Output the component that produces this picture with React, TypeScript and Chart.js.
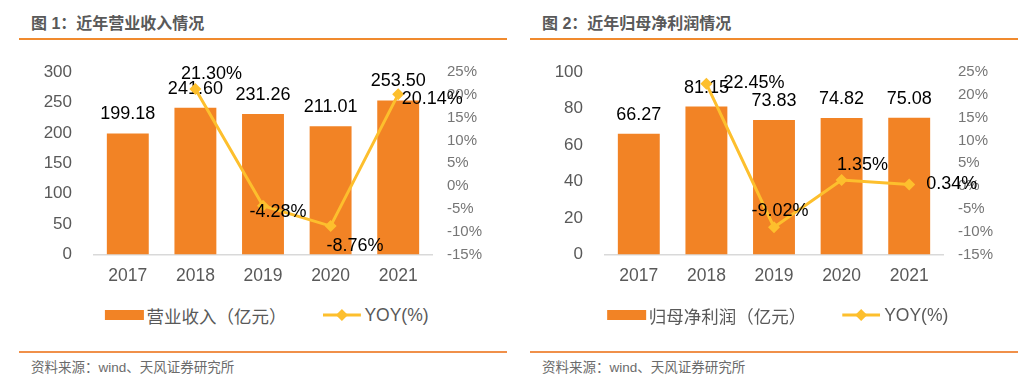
import React, { useEffect, useRef } from 'react';
import { Chart, registerables } from 'chart.js';

Chart.register(...registerables);

const years = ['2017', '2018', '2019', '2020', '2021'];
const revenue = [199.18, 241.6, 231.26, 211.01, 253.5];
const revenueYoy: (number | null)[] = [null, 21.3, -4.28, -8.76, 20.14];
const profit = [66.27, 81.15, 73.83, 74.82, 75.08];
const profitYoy: (number | null)[] = [null, 22.45, -9.02, 1.35, 0.34];
const revenueAxis = { min: 0, max: 300, step: 50 };
const profitAxis = { min: 0, max: 100, step: 20 };
const yoyAxis = { min: -15, max: 25, step: 5 };

const BAR = '#F28325';
const LINE = '#FDBF2D';
const AXIS_TEXT = '#595959';
const LATIN = "'Liberation Sans', Arial, 'Noto Sans CJK SC', sans-serif";

type PanelProps = {
  x: number;
  title: string;
  barLabel: string;
  bars: number[];
  yoy: (number | null)[];
  axis: { min: number; max: number; step: number };
  yoyOffsets: number[][];
};

function Panel({ x, title, barLabel, bars, yoy, axis, yoyOffsets }: PanelProps) {
  const ref = useRef<HTMLCanvasElement>(null);

  useEffect(() => {
    const canvas = ref.current;
    if (!canvas) return;
    const valueLabels = {
      id: 'valueLabels',
      afterDatasetDraw(chart: any, args: any) {
        const ds = chart.data.datasets[args.index];
        const ctx = chart.ctx;
        ctx.save();
        ctx.font = `18px ${LATIN}`;
        ctx.fillStyle = '#000';
        ctx.textAlign = 'center';
        ctx.textBaseline = 'middle';
        args.meta.data.forEach((el: any, i: number) => {
          const v = ds.data[i];
          if (v == null) return;
          if (args.index === 0) {
            ctx.fillText(v.toFixed(2), el.x, el.y - 19);
          } else {
            const [dx, dy] = yoyOffsets[i];
            ctx.fillText(v.toFixed(2) + '%', el.x + dx, el.y + dy);
          }
        });
        ctx.restore();
      },
    };

    const chart = new Chart(canvas, {
      type: 'bar',
      data: {
        labels: years,
        datasets: [
          {
            type: 'bar',
            label: barLabel,
            data: bars,
            backgroundColor: BAR,
            yAxisID: 'y',
            order: 1,
            barPercentage: 0.62,
            categoryPercentage: 1,
          } as any,
          {
            type: 'line',
            label: 'YOY(%)',
            data: yoy,
            borderColor: LINE,
            backgroundColor: LINE,
            borderWidth: 3,
            pointStyle: 'rectRot',
            pointRadius: 6,
            pointBackgroundColor: LINE,
            pointBorderColor: LINE,
            pointBorderWidth: 0,
            yAxisID: 'y1',
            order: 0,
            tension: 0,
          } as any,
        ],
      },
      options: {
        animation: false,
        responsive: false,
        events: [],
        layout: { padding: { top: 30, bottom: 0, left: 0, right: 0 } },
        plugins: { legend: { display: false }, tooltip: { enabled: false } },
        scales: {
          x: {
            grid: { display: false, drawTicks: false },
            border: { display: true, color: '#D9D9D9', width: 1.5 },
            ticks: { color: AXIS_TEXT, font: { family: LATIN, size: 17.5 }, padding: 11 },
            afterFit: (s: any) => {
              s.height = 45.5;
            },
          },
          y: {
            position: 'left',
            min: axis.min,
            max: axis.max,
            grid: { display: false, drawTicks: false },
            border: { display: false },
            ticks: { stepSize: axis.step, color: AXIS_TEXT, font: { family: LATIN, size: 17 }, padding: 22 },
            afterFit: (s: any) => {
              s.width = 94;
            },
          },
          y1: {
            position: 'right',
            min: yoyAxis.min,
            max: yoyAxis.max,
            grid: { display: false, drawTicks: false },
            border: { display: false },
            ticks: {
              stepSize: yoyAxis.step,
              color: '#767676',
              font: { family: LATIN, size: 15 },
              padding: 15,
              callback: (v: any) => v + '%',
            },
            afterFit: (s: any) => {
              s.width = 85;
            },
          },
        },
      } as any,
      plugins: [valueLabels],
    });
    return () => chart.destroy();
  }, []);

  return (
    <>
      <div
        style={{
          position: 'absolute',
          left: x + 31,
          top: 14,
          fontFamily: LATIN,
          fontWeight: 'bold',
          fontSize: 16,
          lineHeight: '20px',
          color: '#595959',
          whiteSpace: 'nowrap',
        }}
      >
        {title}
      </div>
      <div style={{ position: 'absolute', left: x + 19, top: 38, width: 488, height: 1.5, background: '#F08A2E' }} />
      <canvas
        ref={ref}
        width={517}
        height={260}
        style={{ position: 'absolute', left: x, top: 40, width: 517, height: 260 }}
      />
      <div
        style={{
          position: 'absolute',
          left: x + 266.5,
          top: 305,
          height: 20,
          transform: 'translateX(-50%)',
          display: 'flex',
          alignItems: 'center',
          whiteSpace: 'nowrap',
          fontFamily: LATIN,
          fontSize: 17.5,
          color: AXIS_TEXT,
        }}
      >
        <div style={{ width: 39, height: 10, background: BAR, marginRight: 3 }} />
        <span style={{ marginRight: 36 }}>{barLabel}</span>
        <svg width={38} height={20} style={{ marginRight: 4 }}>
          <line x1={0} y1={10} x2={38} y2={10} stroke={LINE} strokeWidth={3} />
          <polygon points="19,4 25,10 19,16 13,10" fill={LINE} />
        </svg>
        <span>YOY(%)</span>
      </div>
      <div style={{ position: 'absolute', left: x + 19, top: 351, width: 488, height: 1.5, background: '#F0904A' }} />
      <div
        style={{
          position: 'absolute',
          left: x + 31,
          top: 358.5,
          fontFamily: LATIN,
          fontSize: 13.5,
          lineHeight: '18px',
          color: '#6B6B6B',
          whiteSpace: 'nowrap',
        }}
      >
        资料来源：wind、天风证券研究所
      </div>
    </>
  );
}

export default function App() {
  return (
    <div
      style={{
        position: 'absolute',
        left: 0,
        top: 0,
        width: 1034,
        height: 387,
        background: '#fff',
        overflow: 'hidden',
      }}
    >
      <Panel
        x={0}
        title="图 1：近年营业收入情况"
        barLabel="营业收入（亿元）"
        bars={revenue}
        yoy={revenueYoy}
        axis={revenueAxis}
        yoyOffsets={[[0, 0], [16, -15], [15, 6], [24.5, 20], [34, 4.5]]}
      />
      <Panel
        x={511}
        title="图 2：近年归母净利润情况"
        barLabel="归母净利润（亿元）"
        bars={profit}
        yoy={profitYoy}
        axis={profitAxis}
        yoyOffsets={[[0, 0], [47.5, -0.5], [6, -16], [21, -15], [42.5, -0.5]]}
      />
    </div>
  );
}
